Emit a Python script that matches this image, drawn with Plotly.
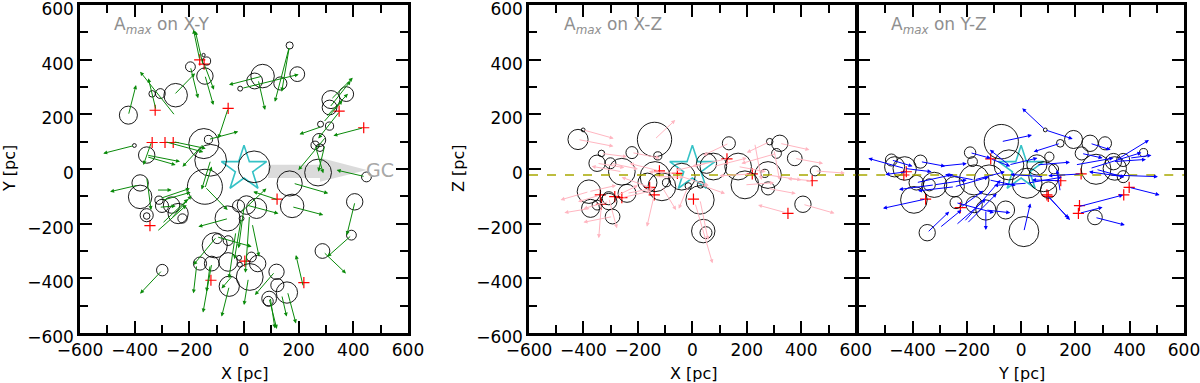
import plotly.graph_objects as go

# ---------------- Panel 1 : X-Y ----------------
xy_circles = [(167,452,13),(-196,374,18),(-137,395,15),(-148,417,6),(-143,340,30),(-250,270,43),
              (-306,276,18),(-336,275,12),(-423,197,33),(68,340,43),(39,322,29),(133,313,24),(195,347,27),
              (-14,294,9),(318,254,33),(313,225,27),(374,274,27),(280,164,11),(313,157,15),(275,106,24),
              (260,87,15),(278,78,14),(271,-13,49),(167,-53,46),(176,-135,43),(448,-29,18),(405,-120,30),
              (393,-242,18),(287,-300,27),(37,8,58),(-147,93,55),(-130,108,15),(-122,32,58),(-143,-65,64),
              (-401,86,7),(-356,51,30),(-380,-51,30),(-380,-102,43),(-356,-169,24),(-356,-172,12),
              (-311,-114,15),(-300,-135,24),(-265,-132,30),(-241,-163,37),(-225,-181,17),(-60,-181,46),
              (9,-132,34),(46,-144,37),(-20,-135,22),(-9,-181,9),(-107,-279,46),(-98,-255,18),(-58,-262,18),
              (-161,-346,24),(-118,-346,27),(-58,-340,34),(-18,-325,9),(-15,-350,9),(27,-322,18),
              (50,-346,30),(21,-395,49),(-54,-429,37),(119,-376,28),(122,-425,24),(157,-452,39),
              (92,-474,27),(89,-484,18),(-299,-370,21)]
xy_plus = [(-162,399),(-146,384),(-325,215),(-58,222),(-336,97),(-289,97),(-259,97),(348,212),
           (438,151),(121,-110),(-344,-207),(3,-337),(-121,-407),(219,-416)]
xy_arrows = [(-423,197,-395,307),(-252,195,-380,356),(-322,216,-350,332),(-256,271,-179,350),
             (-162,399,-185,510),(-146,384,-110,290),(-150,380,-178,505),(-143,343,-112,234),
             (-196,374,-168,259),(-130,108,-21,137),(-58,222,-94,112),(-401,86,-515,57),
             (-338,100,-368,15),(-289,100,-149,62),(-259,100,-140,75),(-356,51,-234,27),
             (-356,45,-250,15),(-147,93,-225,8),(-122,32,-155,-75),(-143,-65,-60,-150),
             (68,340,-55,308),(-8,295,200,346),(52,326,77,216),(166,448,113,246),(166,448,138,283),
             (318,254,398,334),(313,225,390,322),(300,190,380,275),(290,170,360,250),(351,212,272,112),
             (437,151,327,122),(284,155,203,127),(300,118,199,-4),(260,88,290,-16),(296,88,272,-10),
             (443,-28,339,-4),(180,-52,308,-89),(175,-138,290,-168),(125,-113,34,-83),(406,-120,376,-242),
             (394,-242,305,-321),(290,-303,373,-382),(217,-431,190,-315),(159,-449,190,-565),
             (138,-461,156,-540),(92,-473,120,-585),(96,-470,113,-583),(113,-376,40,-461),
             (16,-400,0,-498),(9,-132,126,-163),(-15,-162,82,-71),(0,-140,-20,-290),(30,-200,55,-320),
             (20,-170,5,-380),(-10,-180,-35,-330),(-30,-230,-55,-400),(-57,-181,-167,-211),
             (-100,-248,28,-284),(-100,-248,-185,-351),(-124,-351,-137,-449),(-173,-351,-185,-455),
             (-54,-429,-82,-540),(-118,-346,-150,-525),(-40,-388,-82,-437),(-299,-370,-380,-456),
             (-387,-59,-490,-83),(-356,-30,-340,-150),(-320,-77,-265,-77),(-307,-108,-198,-71),
             (-300,-115,-195,-85),(-310,-140,-250,-135),(-319,-229,-210,-132),(-300,-200,-205,-110),
             (-143,-71,-118,9),(-265,-181,-192,-97)]
gc_x = [88,278,278,450,278,278,88]
gc_y = [16,16,41,-4,-47,-33,-33]

# ---------------- Panel 2 : X-Z ----------------
xz_circles = [(-420,108,37),(-401,143,7),(-139,108,63),(-222,60,22),(-334,57,12),(-350,21,30),
              (-301,21,20),(-259,-10,49),(-380,-83,43),(-374,-144,33),(-350,-132,18),(-307,-119,30),
              (-307,-107,24),(-240,-89,33),(-293,-174,27),(-137,-28,55),(-127,48,15),(-112,-65,51),
              (-39,-28,49),(52,21,37),(28,-113,52),(40,-227,43),(50,-233,22),(-15,-62,12),(30,-58,12),
              (134,94,24),(168,9,49),(193,-58,51),(77,9,49),(278,-22,49),(266,-16,15),(321,94,30),
              (284,100,12),(309,57,18),(376,39,27),(451,-7,18),(406,-129,30),(278,-71,24),
              (-165,-50,35),(-95,-50,15)]
xz_plus = [(-338,-95),(-334,-129),(-285,-101),(-259,-105),(-157,-67),(-140,-95),(-121,-7),
           (-55,-16),(4,-110),(127,37),(220,-18),(440,-43),(351,-162)]
xz_arrows = [(-401,143,-289,112),(-420,108,-290,83),(-139,108,-63,179),(-380,-83,-484,-113),
             (-374,-144,-470,-160),(-307,-119,-400,-145),(-293,-174,-400,-195),(-334,-129,-344,-253),
             (-307,-107,-277,-217),(-140,-95,-167,-211),(-112,-65,-60,-150),(28,-113,58,-260),
             (10,-125,74,-345),(351,-162,241,-132),(406,-129,522,-162),(440,-43,350,-35),
             (451,-7,560,-15),(376,39,480,20),(321,94,430,70),(309,57,180,20),(284,100,200,60),
             (278,-22,400,-40),(278,-71,380,-90),(168,9,270,-10),(193,-58,300,-50),(127,37,0,10),
             (134,94,40,50),(220,-18,100,-25),(77,9,200,40),(52,21,-60,-5),(-39,-28,60,-60),
             (-55,-16,-160,-10),(-121,-7,-230,20),(-137,-28,-30,-30),(-157,-67,-260,-30),
             (-222,60,-120,40),(-259,-10,-370,10),(-301,21,-200,0),(-350,21,-250,5),(-334,57,-240,45),
             (-240,-89,-140,-70),(-285,-101,-200,-60),(-259,-105,-150,-80),(-380,-83,-280,-60),
             (-15,-62,-50,-145),(30,-58,120,-90),(229,94,254,-40),(300,70,320,-40),(-338,-95,-420,-120)]

# ---------------- Panel 3 : Y-Z ----------------
yz_circles = [(-73,100,63),(-188,60,21),(193,108,33),(254,94,30),(309,94,24),(144,94,14),(223,57,24),
              (276,-1,55),(345,2,43),(340,27,30),(376,33,24),(451,60,15),(376,-28,22),(-466,8,37),
              (-478,33,22),(-429,2,43),(-371,27,24),(-395,-113,49),(-386,-50,27),(-338,-58,22),
              (-320,-58,46),(-246,-65,37),(-346,-233,30),(-240,-123,22),(-173,-40,55),(-118,-40,55),
              (-130,-150,37),(-57,-150,33),(-173,-130,30),(-45,15,55),(22,-52,55),(58,15,37),
              (83,-28,55),(10,-229,55),(104,45,17),(120,0,18),(89,143,7),(101,-77,30),(272,-177,27),
              (-179,27,18)]
yz_plus = [(-432,-22),(-423,-10),(-352,-110),(-224,-141),(-112,37),(95,-95),(100,-100),(146,-43),
           (221,-18),(215,-134),(211,-162),(378,-95),(398,-67)]
yz_arrows = [(89,143,4,222),(89,143,190,110),(-73,100,40,124),(-188,60,-112,39),(144,94,46,63),
             (254,94,330,70),(351,33,471,106),(254,2,443,60),(200,15,340,40),(223,57,300,40),
             (376,-28,250,-10),(340,27,460,35),(276,-1,380,-30),(-429,2,-563,39),(-478,33,-400,10),
             (-429,2,-330,-10),(-371,27,-280,10),(-386,-50,-250,-20),(-320,-58,-200,-40),
             (-320,-58,-450,-75),(-246,-65,-120,-30),(-246,-65,-380,-80),(-352,-110,-509,-144),
             (-346,-233,-265,-156),(-300,-215,-220,-150),(-240,-205,-130,-110),(-210,-193,-76,-40),
             (-200,-200,-90,-90),(-130,-150,-130,-223),(-130,-150,-40,-160),(-224,-141,-140,-80),
             (-173,-40,-60,-10),(-173,-40,-280,-20),(-118,-40,-20,-60),(-112,37,-40,10),
             (-45,15,-115,70),(-45,15,60,40),(22,-52,150,-30),(22,-52,-100,-60),(58,15,180,25),
             (83,-28,-40,-20),(144,-83,132,-3),(95,-95,180,-187),(100,-100,175,-180),(10,-229,34,-126),
             (211,-138,376,-95),(215,-162,300,-140),(272,-177,382,-205),(398,-67,510,-95),
             (327,-22,504,-28),(146,-43,40,-40),(221,-18,100,-25),(400,40,480,50),(-300,10,-200,20),
             (-420,-10,-500,-20),(-240,-123,-100,-160)]

midplane_z = -22
panel_titles = ["A<sub><i>max</i></sub> on X-Y", "A<sub><i>max</i></sub> on X-Z", "A<sub><i>max</i></sub> on Y-Z"]
panel_title_pos = [(-484, 525), (-480, 525), (-487, 525)]
arrow_colors = ["#0a8a0a", "#ffb6c1", "#0000ff"]
ticks_major = [-600, -400, -200, 0, 200, 400, 600]
ticks_minor = [-500, -300, -100, 100, 300, 500]

FONT = "DejaVu Sans"
fig = go.Figure()

panels = [("x", "y", xy_circles, xy_plus, xy_arrows),
          ("x2", "y2", xz_circles, xz_plus, xz_arrows),
          ("x3", "y3", yz_circles, yz_plus, yz_arrows)]

# GC arrow (panel 1)
fig.add_trace(go.Scatter(x=gc_x, y=gc_y, fill="toself", fillcolor="rgba(195,195,195,0.6)",
                         line=dict(width=0), mode="lines", hoverinfo="skip", showlegend=False,
                         xaxis="x", yaxis="y"))

shapes = []
annotations = []
for i, (xa, ya, circles, plus, arrows) in enumerate(panels):
    for (cx, cy, r) in circles:
        shapes.append(dict(type="circle", xref=xa, yref=ya, x0=cx - r, x1=cx + r, y0=cy - r, y1=cy + r,
                           line=dict(color="black", width=0.9), layer="above"))
    fig.add_trace(go.Scatter(x=[p[0] for p in plus], y=[p[1] for p in plus], mode="markers",
                             marker=dict(symbol="cross-thin", size=8, line=dict(color="red", width=1.2)),
                             xaxis=xa, yaxis=ya, showlegend=False, hoverinfo="skip"))
    fig.add_trace(go.Scatter(x=[0], y=[0], mode="markers",
                             marker=dict(symbol="star-open", size=34, color="#35c2c6",
                                         line=dict(color="#35c2c6", width=1.6)),
                             xaxis=xa, yaxis=ya, showlegend=False, hoverinfo="skip"))
    for (x0, y0, x1, y1) in arrows:
        annotations.append(dict(x=x1, y=y1, ax=x0, ay=y0, xref=xa, yref=ya, axref=xa, ayref=ya,
                                text="", showarrow=True, arrowhead=2, arrowsize=0.8, arrowwidth=1,
                                arrowcolor=arrow_colors[i], standoff=0, startstandoff=0))
    tx, ty = panel_title_pos[i]
    annotations.append(dict(x=tx, y=ty, xref=xa, yref=ya, text=panel_titles[i], showarrow=False,
                            xanchor="left", yanchor="middle", font=dict(family=FONT, size=17, color="#8f8f8f")))
    if i > 0:
        shapes.append(dict(type="line", xref=xa, yref=ya, x0=-600, x1=600, y0=midplane_z, y1=midplane_z,
                           line=dict(color="#a8a800", width=1.3, dash="dash"), layer="above"))

annotations.append(dict(x=497, y=-5, xref="x", yref="y", text="GC", showarrow=False,
                        font=dict(family=FONT, size=19, color="#a8a8a8")))

# axis titles
axis_titles = [("X [pc]", 244, 373, 0), ("Y [pc]", 9, 169, -90), ("X [pc]", 693, 373, 0),
               ("Z [pc]", 458, 169, -90), ("Y [pc]", 1021, 373, 0)]
for t, px, py, ang in axis_titles:
    annotations.append(dict(x=px / 1200, y=1 - py / 383, xref="paper", yref="paper", text=t,
                            showarrow=False, textangle=ang, xanchor="center", yanchor="middle",
                            font=dict(family=FONT, size=16, color="black")))

def axis(domain, anchor, show_labels=True, tickvals=None, shift=0):
    return dict(domain=domain, anchor=anchor, range=[-600, 600], tickmode="array",
                tickvals=tickvals if tickvals is not None else ticks_major,
                ticks="inside", ticklen=12, tickwidth=2, tickcolor="black",
                minor=dict(tickmode="array", tickvals=ticks_minor, ticks="inside", ticklen=8,
                           tickwidth=2, tickcolor="black"),
                showline=True, linewidth=2.5, linecolor="black", mirror="allticks",
                showgrid=False, zeroline=False, showticklabels=show_labels,
                ticklabeloverflow="allow", ticklabelshift=shift,
                tickfont=dict(family=FONT, size=17, color="black"), automargin=False)

ydom = [1 - 333 / 383, 1 - 5 / 383]
fig.update_layout(
    width=1200, height=383, margin=dict(l=0, r=0, t=0, b=0),
    paper_bgcolor="white", plot_bgcolor="white", showlegend=False,
    xaxis=axis([80 / 1200, 408 / 1200], "y"),
    yaxis=axis(ydom, "x", shift=4),
    xaxis2=axis([529 / 1200, 855.75 / 1200], "y2"),
    yaxis2=axis(ydom, "x2", shift=4),
    xaxis3=axis([858.25 / 1200, 1184 / 1200], "y3", tickvals=ticks_major[1:]),
    yaxis3=axis(ydom, "x3", show_labels=False),
    shapes=shapes, annotations=annotations,
)

fig.write_html("out.html", config={"displayModeBar": False},
               post_script="document.body.style.margin='0';document.body.style.overflow='hidden';")
